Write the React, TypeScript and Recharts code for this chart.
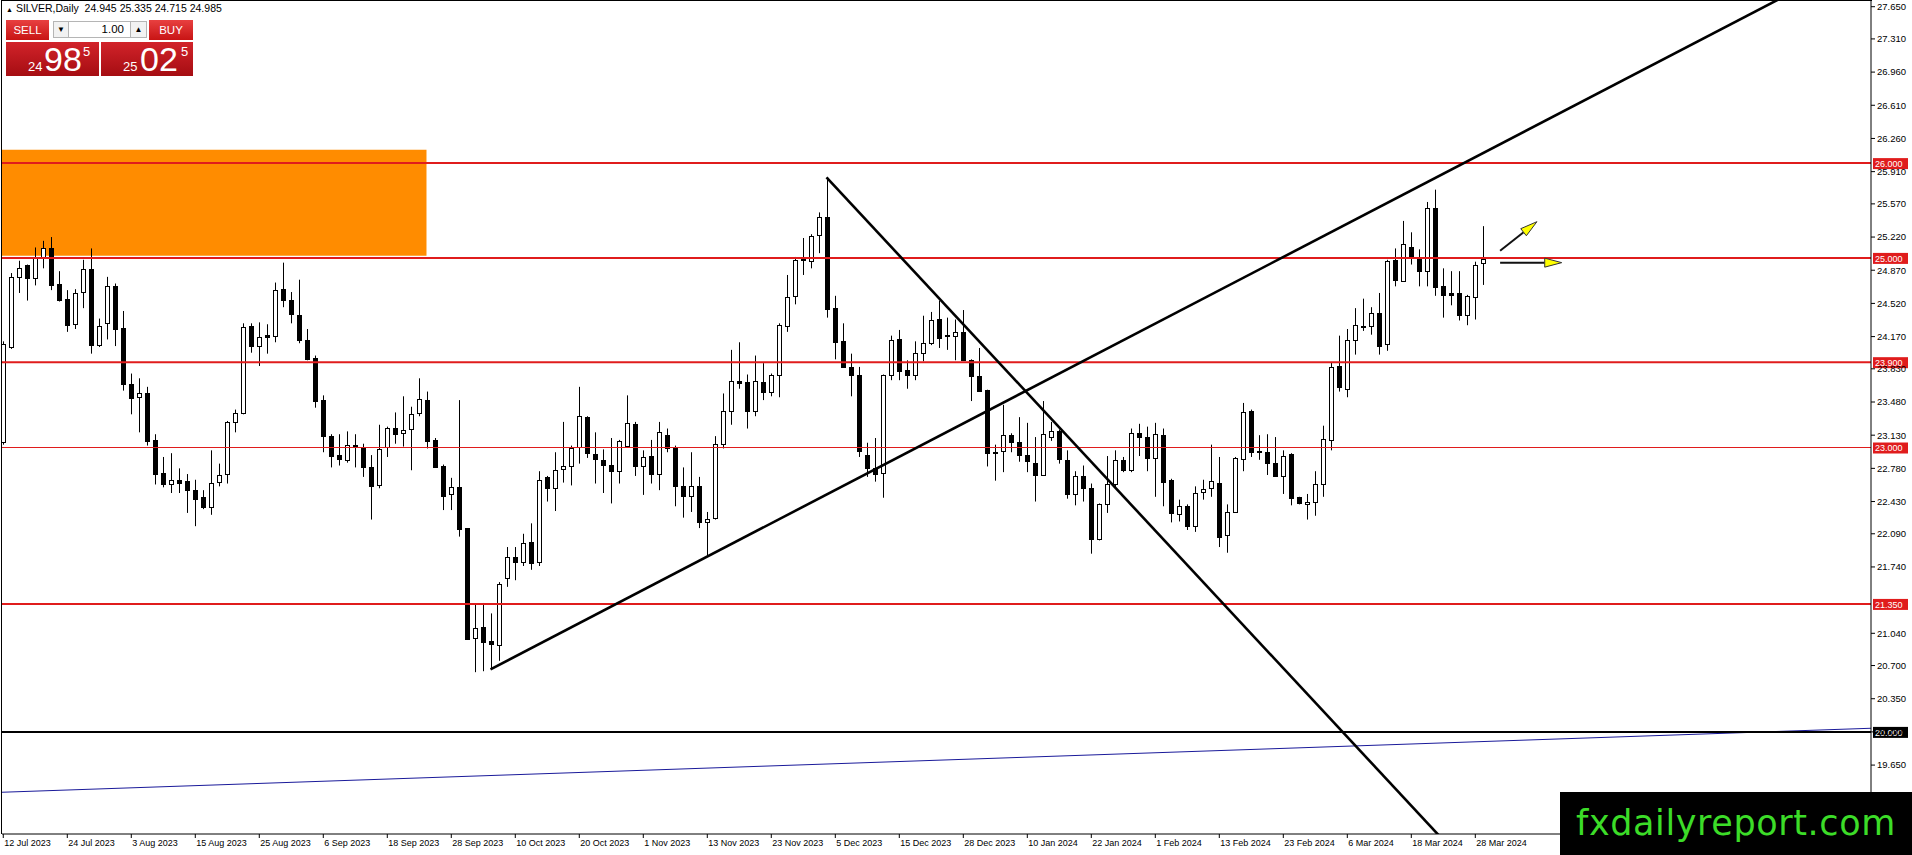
import React from 'react'
import {
  ComposedChart,
  Bar,
  XAxis,
  YAxis,
  ReferenceLine,
  ReferenceArea,
} from 'recharts'

// SILVER daily candles, 12 Jul 2023 .. 1 Apr 2024 (bar index = position)
const opens = [
  23.06, 24.06, 24.80, 24.92, 24.79, 25.01, 25.10, 24.73, 24.57, 24.30,
  24.64, 24.88, 24.08, 24.31, 24.70, 24.26, 23.67, 23.53, 23.58, 23.08,
  22.73, 22.62, 22.66, 22.65, 22.55, 22.48, 22.37, 22.64, 22.72, 23.27,
  23.36, 24.28, 24.07, 24.19, 24.18, 24.67, 24.56, 24.40, 24.13, 23.94,
  23.50, 23.12, 22.92, 22.87, 23.03, 23.01, 22.79, 22.60, 23.01, 23.21,
  23.15, 23.19, 23.36, 23.50, 23.08, 22.81, 22.51, 22.58, 22.15, 20.99,
  21.11, 20.96, 20.92, 21.62, 21.84, 21.79, 22.00, 21.79, 22.69, 22.57,
  22.77, 22.81, 23.01, 23.32, 22.93, 22.87, 22.82, 22.75, 23.02, 23.25,
  22.81, 22.91, 22.72, 23.13, 23.00, 22.59, 22.49, 22.59, 22.21, 22.26,
  23.04, 23.39, 23.70, 23.69, 23.38, 23.69, 23.59, 23.76, 24.28, 24.60,
  25.00, 24.97, 25.24, 25.43, 24.47, 24.12, 23.85, 23.77, 22.92, 22.78,
  22.73, 23.77, 24.14, 23.82, 23.76, 24.00, 24.10, 24.36, 24.19, 24.18,
  24.22, 23.92, 23.75, 23.61, 22.95, 22.96, 23.13, 23.06, 22.92, 22.84,
  22.71, 23.11, 23.17, 22.87, 22.51, 22.70, 22.57, 22.04, 22.40, 22.62,
  22.87, 22.76, 23.15, 23.11, 22.89, 23.13, 22.66, 22.30, 22.38, 22.17,
  22.53, 22.57, 22.63, 22.08, 22.32, 22.88, 23.39, 22.96, 22.95, 22.84,
  22.70, 22.93, 22.48, 22.40, 22.42, 22.62, 23.08, 23.86, 23.62, 24.13,
  24.28, 24.28, 24.42, 24.09, 24.98, 24.76, 25.12, 25.00, 24.86, 25.53,
  24.70, 24.63, 24.63, 24.40, 24.59, 24.945,
]
const highs = [
  24.12, 24.84, 24.97, 24.93, 25.11, 25.18, 25.22, 24.86, 24.66, 24.67,
  24.98, 25.10, 24.36, 24.80, 24.73, 24.44, 23.78, 23.73, 23.64, 23.14,
  22.90, 22.94, 22.78, 22.72, 22.66, 22.55, 22.97, 22.83, 23.28, 23.40,
  24.31, 24.31, 24.32, 24.30, 24.74, 24.95, 24.64, 24.77, 24.25, 23.97,
  23.55, 23.14, 23.14, 23.17, 23.14, 23.04, 22.92, 23.24, 23.22, 23.37,
  23.54, 23.43, 23.73, 23.59, 23.10, 22.82, 22.68, 23.50, 22.15, 21.34,
  21.36, 21.25, 21.58, 21.95, 21.95, 22.09, 22.20, 22.75, 22.70, 22.95,
  23.27, 23.02, 23.64, 23.33, 23.16, 22.98, 23.10, 23.08, 23.55, 23.27,
  22.97, 23.08, 23.27, 23.20, 23.02, 22.79, 22.95, 22.69, 22.32, 23.12,
  23.57, 24.03, 24.11, 23.77, 23.97, 23.89, 23.78, 24.31, 24.82, 25.01,
  25.21, 25.25, 25.48, 25.85, 24.60, 24.31, 23.99, 23.85, 23.05, 23.10,
  23.77, 24.18, 24.24, 23.92, 24.12, 24.39, 24.43, 24.55, 24.37, 24.35,
  24.45, 23.93, 24.05, 23.61, 23.03, 23.45, 23.15, 23.32, 23.26, 23.11,
  23.49, 23.27, 23.19, 22.97, 22.75, 22.81, 22.62, 22.41, 22.91, 22.97,
  22.90, 23.20, 23.25, 23.22, 23.26, 23.20, 22.67, 22.45, 22.40, 22.59,
  22.66, 23.03, 22.90, 22.40, 22.90, 23.47, 23.40, 23.13, 23.14, 23.11,
  22.97, 22.94, 22.48, 22.51, 22.75, 23.23, 23.90, 24.18, 24.25, 24.47,
  24.57, 24.48, 24.63, 24.98, 25.10, 25.39, 25.27, 25.09, 25.59, 25.72,
  24.89, 24.86, 24.86, 24.61, 24.96, 25.335,
]
const lows = [
  23.03, 24.04, 24.63, 24.55, 24.71, 24.89, 24.66, 24.54, 24.22, 24.25,
  24.47, 23.99, 24.06, 24.14, 24.07, 23.60, 23.35, 23.16, 23.02, 22.61,
  22.58, 22.52, 22.52, 22.31, 22.17, 22.35, 22.29, 22.59, 22.62, 23.16,
  23.35, 24.00, 23.86, 23.99, 24.11, 24.48, 24.31, 24.10, 23.92, 23.42,
  22.95, 22.79, 22.81, 22.84, 22.79, 22.69, 22.24, 22.57, 22.90, 23.04,
  23.01, 22.76, 23.33, 22.99, 22.79, 22.34, 22.34, 22.06, 20.97, 20.63,
  20.64, 20.66, 20.75, 21.53, 21.60, 21.75, 21.71, 21.75, 22.43, 22.33,
  22.63, 22.60, 22.83, 22.89, 22.62, 22.52, 22.41, 22.62, 23.01, 22.70,
  22.50, 22.62, 22.55, 22.95, 22.38, 22.26, 22.32, 22.15, 21.85, 22.24,
  22.99, 23.24, 23.62, 23.20, 23.33, 23.50, 23.54, 23.53, 24.22, 24.51,
  24.82, 24.89, 25.05, 24.37, 23.93, 23.84, 23.54, 22.90, 22.69, 22.64,
  22.47, 23.71, 23.71, 23.62, 23.71, 23.91, 24.08, 24.05, 24.03, 23.92,
  23.92, 23.49, 23.59, 22.80, 22.65, 22.74, 22.95, 22.85, 22.74, 22.43,
  22.70, 23.07, 22.83, 22.46, 22.39, 22.43, 21.88, 22.02, 22.31, 22.57,
  22.74, 22.74, 22.91, 22.75, 22.48, 22.38, 22.21, 22.22, 22.13, 22.11,
  22.45, 22.48, 21.95, 21.89, 22.31, 22.75, 22.90, 22.87, 22.71, 22.69,
  22.51, 22.39, 22.40, 22.24, 22.28, 22.48, 22.97, 23.59, 23.53, 23.98,
  24.23, 24.19, 23.98, 24.02, 24.70, 24.75, 24.93, 24.70, 24.70, 24.60,
  24.37, 24.50, 24.34, 24.29, 24.35, 24.715,
]
const closes = [
  24.09, 24.80, 24.89, 24.79, 25.01, 25.10, 24.71, 24.56, 24.29, 24.63,
  24.88, 24.08, 24.28, 24.70, 24.25, 23.67, 23.52, 23.57, 23.07, 22.72,
  22.62, 22.66, 22.63, 22.55, 22.46, 22.37, 22.63, 22.71, 23.27, 23.36,
  24.27, 24.07, 24.17, 24.17, 24.66, 24.56, 24.41, 24.13, 23.93, 23.49,
  23.12, 22.91, 22.88, 23.03, 23.01, 22.79, 22.59, 22.98, 23.21, 23.14,
  23.18, 23.35, 23.51, 23.07, 22.79, 22.49, 22.58, 22.14, 20.98, 21.10,
  20.95, 20.93, 21.56, 21.84, 21.79, 21.99, 21.78, 22.66, 22.57, 22.76,
  22.81, 23.00, 23.33, 22.94, 22.88, 22.82, 22.75, 23.07, 23.26, 22.81,
  22.90, 22.72, 23.16, 22.99, 22.59, 22.49, 22.59, 22.21, 22.25, 23.04,
  23.39, 23.70, 23.68, 23.39, 23.70, 23.59, 23.77, 24.29, 24.59, 24.98,
  24.98, 25.23, 25.43, 24.46, 24.11, 23.85, 23.77, 22.96, 22.78, 22.72,
  23.77, 24.13, 23.81, 23.76, 24.00, 24.10, 24.35, 24.15, 24.18, 24.22,
  23.92, 23.75, 23.60, 22.94, 22.94, 23.13, 23.06, 22.92, 22.86, 22.71,
  23.14, 23.17, 22.88, 22.51, 22.70, 22.57, 22.04, 22.40, 22.62, 22.87,
  22.76, 23.15, 23.11, 22.89, 23.14, 22.64, 22.31, 22.38, 22.17, 22.52,
  22.56, 22.65, 22.06, 22.32, 22.89, 23.37, 22.95, 22.95, 22.84, 22.70,
  22.91, 22.47, 22.41, 22.43, 22.62, 23.09, 23.85, 23.64, 24.13, 24.29,
  24.27, 24.42, 24.07, 24.97, 24.77, 25.15, 25.01, 24.86, 25.53, 24.69,
  24.61, 24.61, 24.40, 24.60, 24.93, 24.985,
]

// date labels, one every 8 bars starting at bar 0
const dateLabels = [
  '12 Jul 2023', '24 Jul 2023', '3 Aug 2023', '15 Aug 2023', '25 Aug 2023',
  '6 Sep 2023', '18 Sep 2023', '28 Sep 2023', '10 Oct 2023', '20 Oct 2023',
  '1 Nov 2023', '13 Nov 2023', '23 Nov 2023', '5 Dec 2023', '15 Dec 2023',
  '28 Dec 2023', '10 Jan 2024', '22 Jan 2024', '1 Feb 2024', '13 Feb 2024',
  '23 Feb 2024', '6 Mar 2024', '18 Mar 2024', '28 Mar 2024',
]
const LABEL_STEP = 8

// price scale labels (the one under the 21.350 tag is fully hidden in the original)
const priceTicks = [
  27.65, 27.31, 26.96, 26.61, 26.26, 25.91, 25.57, 25.22, 24.87, 24.52,
  24.17, 23.83, 23.48, 23.13, 22.78, 22.43, 22.09, 21.74, 21.04,
  20.7, 20.35, 20.0, 19.65,
]

// red horizontal levels
const levelPrices = [26.0, 25.0, 23.9, 23.0, 21.35]
const levelWidths = [2, 2, 2, 1, 2]

// trend lines [bar, price]
const upTrend = [[60.9, 20.66], [232, 28.17]]
const downTrend = [[102.9, 25.85], [192, 17.77]]
const blueTrend = [[-1, 19.361], [234, 20.04]]
const arrowUp = [[187.1, 25.076], [191.7, 25.382]]
const arrowRight = [[187.1, 24.95], [194.8, 24.95]]

// supply zone (orange box)
const zoneBars = [-1, 52.9]
const zonePrices = [25.023, 26.14]

const X_DOMAIN = [-0.16, 233.46]
const Y_DOMAIN = [18.923, 27.71]

const FONT = '"Liberation Sans", Arial, sans-serif'
const RED = '#e01c1c'

const candles = opens.map((o, i) => ({
  i,
  o,
  h: highs[i],
  l: lows[i],
  c: closes[i],
  range: [lows[i], highs[i]],
}))

const xTicks = dateLabels.map((_, k) => k * LABEL_STEP)

function Candle(props: any) {
  const { x, y, width, height, payload } = props
  if (!payload || x == null || y == null) return null
  const { o, h, l, c } = payload
  const top = Math.min(y, y + height)
  const hh = Math.abs(height)
  const cx = Math.floor(x + width / 2) + 0.5
  const span = h - l
  const py = (p: number) => (span > 0 ? top + ((h - p) / span) * hh : top)
  const bTop = Math.round(py(Math.max(o, c))) + 0.5
  const bBot = Math.round(py(Math.min(o, c))) + 0.5
  const up = c >= o
  return (
    <g>
      <line x1={cx} x2={cx} y1={top} y2={top + hh} stroke="#000" strokeWidth={1} />
      <rect
        x={cx - 2}
        y={bTop}
        width={4}
        height={Math.max(bBot - bTop, 1)}
        fill={up ? '#fff' : '#000'}
        stroke="#000"
        strokeWidth={1}
      />
    </g>
  )
}

function DateTick(props: any) {
  const { x, y, payload } = props
  const label = dateLabels[Math.round(payload.value / LABEL_STEP)]
  return (
    <text x={x + 1} y={y} dy="0.71em" textAnchor="start" fontSize={9} fontFamily={FONT} fill="#000">
      {label}
    </text>
  )
}

function PriceTag(props: any) {
  const vb = props.viewBox || {}
  const left = (vb.x || 0) + (vb.width || 0) + 2
  const y = vb.y || 0
  return (
    <g>
      <rect x={left} y={y - 5} width={35} height={11} fill={props.bg} />
      <text x={left + 2} y={y + 0.5} dy="0.355em" fontSize={9} fontFamily={FONT} fill="#fff">
        {props.text}
      </text>
    </g>
  )
}

function Arrow(p: any) {
  const { x1, y1, x2, y2 } = p
  const ang = Math.atan2(y2 - y1, x2 - x1)
  const L = 17
  const W = 4.5
  const bx = x2 - L * Math.cos(ang)
  const by = y2 - L * Math.sin(ang)
  const nx = -Math.sin(ang) * W
  const ny = Math.cos(ang) * W
  return (
    <g>
      <line x1={x1} y1={y1} x2={bx} y2={by} stroke="#111" strokeWidth={2} />
      <polygon
        points={`${x2},${y2} ${bx + nx},${by + ny} ${bx - nx},${by - ny}`}
        fill="#ffff00"
        stroke="#333"
        strokeWidth={1}
      />
    </g>
  )
}

const seg = (pts: number[][]) => pts.map(([x, y]) => ({ x, y }))

function TradePanel() {
  const btn: React.CSSProperties = {
    position: 'absolute',
    top: 20,
    height: 20,
    background: 'linear-gradient(#e84040, #c81414)',
    color: '#fff',
    fontSize: 11.5,
    lineHeight: '20px',
    textAlign: 'center',
    borderBottom: '1px solid #fff',
  }
  const big: React.CSSProperties = {
    position: 'absolute',
    top: 42,
    height: 34,
    background: 'linear-gradient(#d2232a, #a50d12)',
    color: '#fff',
  }
  const small: React.CSSProperties = { position: 'absolute', top: 17, fontSize: 13 }
  const large: React.CSSProperties = { position: 'absolute', top: 0, fontSize: 34, lineHeight: '34px' }
  const sup: React.CSSProperties = { position: 'absolute', top: 2, fontSize: 13 }
  const box: React.CSSProperties = {
    position: 'absolute',
    top: 21,
    height: 17,
    background: '#f2f2f2',
    border: '1px solid #b5b5b5',
    boxSizing: 'border-box',
    fontSize: 8,
    lineHeight: '15px',
    textAlign: 'center',
  }
  return (
    <div style={{ position: 'absolute', left: 0, top: 0, fontFamily: FONT }}>
      <div style={{ position: 'absolute', left: 6, top: 2, fontSize: 10.5, whiteSpace: 'nowrap', color: '#000' }}>
        <span style={{ fontSize: 7, marginRight: 3 }}>▲</span>SILVER,Daily&nbsp; 24.945 25.335 24.715 24.985
      </div>
      <div style={{ ...btn, left: 6, width: 43 }}>SELL</div>
      <div style={{ ...box, left: 53, width: 16 }}>▼</div>
      <div style={{ ...box, left: 68, width: 63, background: '#fff', textAlign: 'right', paddingRight: 6, fontSize: 11.5 }}>1.00</div>
      <div style={{ ...box, left: 130, width: 17 }}>▲</div>
      <div style={{ ...btn, left: 149, width: 44 }}>BUY</div>
      <div style={{ ...big, left: 6, width: 93 }}>
        <span style={{ ...small, left: 22 }}>24</span>
        <span style={{ ...large, left: 38 }}>98</span>
        <span style={{ ...sup, left: 77 }}>5</span>
      </div>
      <div style={{ ...big, left: 101, width: 92 }}>
        <span style={{ ...small, left: 22 }}>25</span>
        <span style={{ ...large, left: 39 }}>02</span>
        <span style={{ ...sup, left: 80 }}>5</span>
      </div>
    </div>
  )
}

export default function App() {
  return (
    <div
      style={{
        position: 'absolute',
        left: 0,
        top: 0,
        width: 1912,
        height: 855,
        background: '#fff',
        overflow: 'hidden',
        fontFamily: FONT,
      }}
    >
      <ComposedChart
        width={1912}
        height={855}
        data={candles}
        margin={{ top: 1, right: 0, bottom: 0, left: 2 }}
      >
        <XAxis
          dataKey="i"
          type="number"
          domain={X_DOMAIN}
          allowDataOverflow
          ticks={xTicks}
          interval={0}
          height={21}
          tickSize={4}
          tickMargin={2}
          tick={<DateTick />}
          axisLine={{ stroke: '#000' }}
          tickLine={{ stroke: '#000' }}
        />
        <YAxis
          orientation="right"
          type="number"
          domain={Y_DOMAIN}
          allowDataOverflow
          ticks={priceTicks}
          interval={0}
          width={41}
          tickSize={4}
          tickMargin={2}
          tickFormatter={(v: number) => v.toFixed(3)}
          tick={{ fontSize: 9.5, fill: '#000', fontFamily: FONT }}
          axisLine={{ stroke: '#000' }}
          tickLine={{ stroke: '#000' }}
        />
        <ReferenceArea
          x1={zoneBars[0]}
          x2={zoneBars[1]}
          y1={zonePrices[0]}
          y2={zonePrices[1]}
          fill="#ff8c00"
          fillOpacity={1}
          stroke="none"
          ifOverflow="hidden"
        />
        <Bar dataKey="range" shape={(p: any) => <Candle {...p} />} barSize={6} isAnimationActive={false} />
        <ReferenceLine segment={seg(blueTrend)} stroke="#1a1a9a" strokeWidth={1} ifOverflow="hidden" />
        {levelPrices.map((p, k) => (
          <ReferenceLine
            key={p}
            y={p}
            stroke={RED}
            strokeWidth={levelWidths[k]}
            label={(lp: any) => <PriceTag {...lp} text={p.toFixed(3)} bg={RED} />}
          />
        ))}
        <ReferenceLine
          y={20}
          stroke="#000"
          strokeWidth={2}
          label={(lp: any) => <PriceTag {...lp} text="20.000" bg="#000" />}
        />
        <ReferenceLine segment={seg(upTrend)} stroke="#000" strokeWidth={2.6} ifOverflow="hidden" />
        <ReferenceLine segment={seg(downTrend)} stroke="#000" strokeWidth={2.6} ifOverflow="hidden" />
        <ReferenceLine segment={seg(arrowUp)} shape={(p: any) => <Arrow {...p} />} ifOverflow="visible" />
        <ReferenceLine segment={seg(arrowRight)} shape={(p: any) => <Arrow {...p} />} ifOverflow="visible" />
      </ComposedChart>
      <div style={{ position: 'absolute', left: 1, top: 0, width: 1, height: 834, background: '#000' }} />
      <div style={{ position: 'absolute', left: 1, top: 0, width: 1871, height: 1, background: '#000' }} />
      <TradePanel />
      <div
        style={{
          position: 'absolute',
          left: 1560,
          top: 792,
          width: 352,
          height: 63,
          background: '#000',
          color: '#3cdc28',
          fontFamily: '"DejaVu Sans", Verdana, sans-serif',
          fontSize: 35,
          letterSpacing: 0.6,
          lineHeight: '63px',
          paddingLeft: 16,
          boxSizing: 'border-box',
          whiteSpace: 'nowrap',
        }}
      >
        fxdailyreport.com
      </div>
    </div>
  )
}
